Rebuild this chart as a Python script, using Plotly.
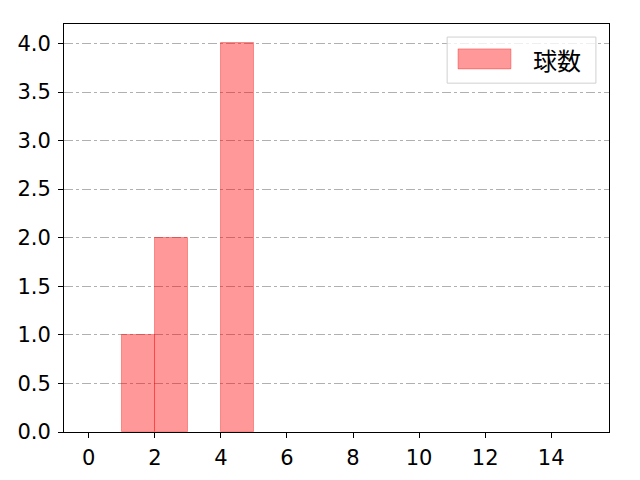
import plotly.graph_objects as go

# 投球数ヒストグラム (bin幅1, 0〜15)
bin_left = list(range(0, 15))
counts = [0, 1, 2, 0, 4, 0, 0, 0, 0, 0, 0, 0, 0, 0, 0]
label = '球数'

x_ticks = [0, 2, 4, 6, 8, 10, 12, 14]
y_ticks = [0.0, 0.5, 1.0, 1.5, 2.0, 2.5, 3.0, 3.5, 4.0]

tick_font = 'DejaVu Sans, sans-serif'
jp_font = 'Noto Sans CJK JP, IPAexGothic, sans-serif'
fill = 'rgba(255,0,0,0.4)'

fig = go.Figure()
fig.add_trace(go.Bar(
    x=[b + 0.5 for b in bin_left],
    y=[c if c else None for c in counts],
    width=1,
    marker=dict(color=fill, line=dict(color='rgba(255,0,0,0.35)', width=1)),
    name=label,
    showlegend=False,
))

# ページ側のbody余白(8px)を差し引いたマージン
fig.update_layout(
    width=640, height=480,
    margin=dict(l=56, r=39, t=16, b=56),
    plot_bgcolor='white', paper_bgcolor='white',
    font=dict(family=tick_font, size=21, color='black'),
    bargap=0,
)
fig.update_xaxes(
    range=[-0.75, 15.75], tickvals=x_ticks, automargin=False,
    showgrid=False, zeroline=False,
    showline=True, linecolor='black', linewidth=1, mirror=True,
    ticks='outside', ticklen=5, tickcolor='black', ticklabelstandoff=2,
)
fig.update_yaxes(
    range=[0, 4.2], tickvals=y_ticks, tickformat='.1f', automargin=False,
    showgrid=True, gridcolor='#b0b0b0', griddash='dashdot', gridwidth=1,
    zeroline=False,
    showline=True, linecolor='black', linewidth=1, mirror=True,
    ticks='outside', ticklen=5, tickcolor='black', ticklabelstandoff=3,
)

# 凡例 (matplotlib風)
fig.add_shape(type='rect', xref='paper', yref='paper',
              x0=0.703, x1=0.976, y0=0.855, y1=0.968,
              line=dict(color='#d0d0d0', width=1), fillcolor='rgba(255,255,255,0.8)')
fig.add_shape(type='rect', xref='paper', yref='paper',
              x0=0.723, x1=0.820, y0=0.890, y1=0.939,
              line=dict(color='rgba(255,0,0,0.35)', width=1), fillcolor=fill)
fig.add_annotation(xref='paper', yref='paper', x=0.857, y=0.914,
                   text=label, showarrow=False, xanchor='left', yanchor='middle',
                   font=dict(family=jp_font, size=24))

fig.write_html('out.html')
